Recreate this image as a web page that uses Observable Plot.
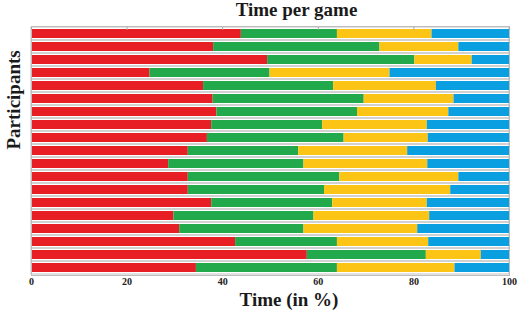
<!DOCTYPE html>
<html>
<head>
<meta charset="utf-8">
<script src="https://cdn.jsdelivr.net/npm/d3@7"></script>
<script src="https://cdn.jsdelivr.net/npm/@observablehq/plot@0.6"></script>
<style>
  html, body { margin: 0; padding: 0; background: #fff; }
  #chart svg { display: block; }
</style>
</head>
<body>
<div id="chart"></div>
<script>
// Share of time (in %) each participant spent on each game, top row first
const participants = d3.range(1, 20);
const games = ["Game 1", "Game 2", "Game 3", "Game 4"];
const gameColors = ["#e81e25", "#22a94b", "#fcc516", "#0a9fe1"];

const game1 = [43.9, 38.1, 49.4, 24.8, 36.0, 38.0, 38.8, 37.7, 36.8, 32.8, 28.7, 32.8, 32.8, 37.7, 29.8, 31.0, 42.7, 57.7, 34.5];
const game2 = [20.1, 34.8, 30.8, 25.1, 27.2, 31.6, 29.4, 23.2, 28.6, 23.1, 28.3, 31.7, 28.5, 25.3, 29.3, 26.0, 21.3, 24.9, 29.5];
const game3 = [19.8, 16.5, 12.0, 25.1, 21.5, 18.8, 19.1, 21.9, 17.6, 22.8, 25.9, 24.9, 26.4, 19.8, 24.2, 23.8, 19.1, 11.5, 24.6];
const game4 = [16.2, 10.6, 7.8, 25.0, 15.3, 11.6, 12.7, 17.2, 17.0, 21.3, 17.1, 10.6, 12.3, 17.2, 16.7, 19.2, 16.9, 5.9, 11.4];

const xTicks = [0, 20, 40, 60, 80, 100];

const series = [game1, game2, game3, game4];
const rows = participants.flatMap((p, i) =>
  games.map((g, j) => ({participant: p, game: g, value: series[j][i]}))
);

const chart = Plot.plot({
  width: 522,
  height: 312,
  marginLeft: 31,
  marginRight: 13,
  marginTop: 26,
  marginBottom: 37,
  style: {fontFamily: "'Liberation Serif', 'Times New Roman', serif", fontWeight: "bold", color: "#1a1a1a", background: "#fff"},
  x: {domain: [0, 100]},
  y: {domain: participants, padding: 0, axis: null},
  color: {domain: games, range: gameColors},
  marks: [
    // thin separators between the rows
    Plot.barX(participants, {x1: 0, x2: 100, y: d => d, fill: "none", stroke: "#c2c2c2", strokeWidth: 1}),
    Plot.barX(rows, Plot.stackX({y: "participant", x: "value", fill: "game", insetTop: 2, insetBottom: 2})),
    Plot.frame({stroke: "#bdbdbd"}),
    Plot.axisX({anchor: "top", ticks: xTicks, tickSize: 3, dy: 3, tickFormat: () => "", label: null, stroke: "#aaa"}),
    Plot.axisX({anchor: "bottom", ticks: xTicks, tickSize: 0, tickPadding: 2, label: null, fontSize: 10, fill: "#222"}),
    Plot.text(["Time per game"], {frameAnchor: "top", lineAnchor: "bottom", dx: 26, dy: -10.5, fontSize: 19, fontWeight: "bold", fill: "#1a1a1a"}),
    Plot.text(["Time (in %)"], {frameAnchor: "bottom", lineAnchor: "bottom", dx: 18.5, dy: 30.5, fontSize: 19, fontWeight: "bold", fill: "#1a1a1a"}),
    Plot.text(["Participants"], {frameAnchor: "left", rotate: -90, dx: -18, dy: -1.5, fontSize: 19, fontWeight: "bold", fill: "#1a1a1a"})
  ]
});

document.getElementById("chart").appendChild(chart);
</script>
</body>
</html>
